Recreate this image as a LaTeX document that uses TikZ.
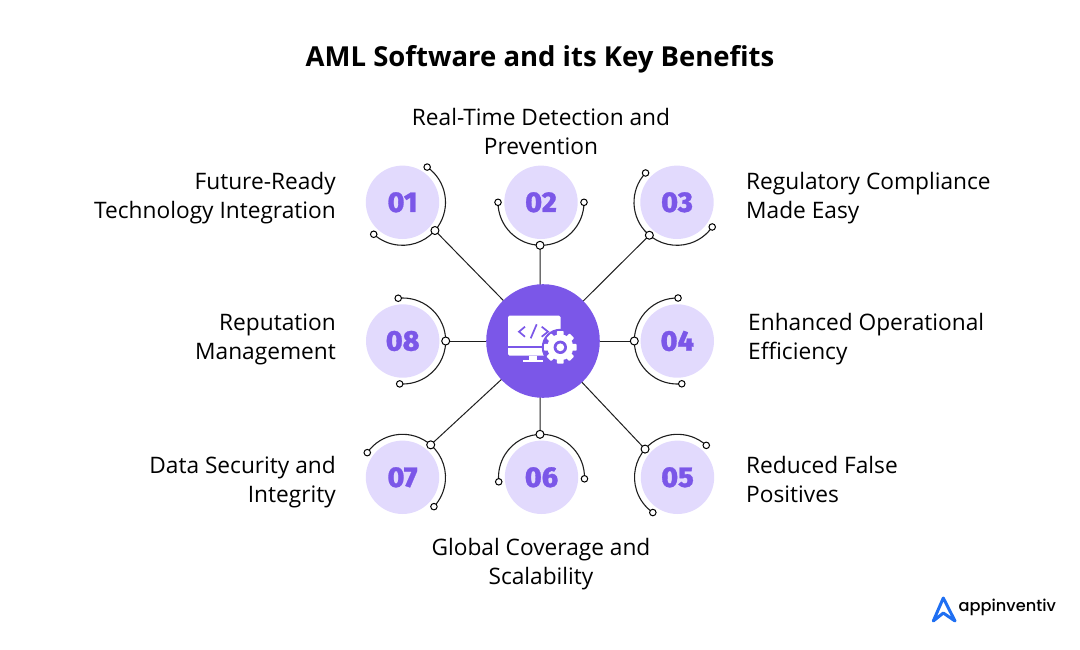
\documentclass[tikz,border=0pt]{standalone}
\usepackage{fontspec}
\setmainfont{Open Sans}
\newfontfamily\numfont{Fira Sans}[UprightFont=* ExtraBold,FakeBold=1]
\newfontfamily\logofont{Poppins}[UprightFont=* Medium]
\usetikzlibrary{calc}
\definecolor{violet}{HTML}{7B57E8}
\definecolor{lilac}{HTML}{E2DAFD}
\definecolor{logoblue}{HTML}{1F6FF2}
\definecolor{inkline}{HTML}{1E1E1E}
\tikzset{
  numdisc/.style={circle,fill=lilac,minimum size=73.4pt,inner sep=0pt,text=violet,font=\numfont\fontsize{28.5}{28.5}\selectfont},
  enddot/.style={circle,draw=black,fill=white,line width=1pt,minimum size=6.5pt,inner sep=0pt},
  joint/.style={circle,draw=black,fill=white,line width=1pt,minimum size=8pt,inner sep=0pt},
  ringarc/.style={draw=inkline,line width=1.1pt},
  spoke/.style={draw=inkline,line width=1pt},
  label/.style={font=\fontsize{22.7}{29}\selectfont,inner sep=0pt,text=black},
}
\newcommand{\benefit}[8]{% name,x,y,start,end,joint angle,number,spoke target
  \node[numdisc] (#1) at (#2,#3) {#7};
  \draw[ringarc] ($(#1.center)+(#4:43pt)$) arc[start angle=#4,end angle=#5,radius=43pt];
  \node[enddot] (#1a) at ($(#1.center)+(#4:43pt)$) {};
  \node[enddot] (#1b) at ($(#1.center)+(#5:43pt)$) {};
  \draw[spoke] (#8) -- ($(#1.center)+(#6:43pt)$) node[joint] (#1j) {};
}
\begin{document}
\begin{tikzpicture}[x=1pt,y=-1pt]
\useasboundingbox (0,0) rectangle (1080,649);
\node[font=\bfseries\fontsize{27.5}{30}\selectfont,inner sep=0pt] (title) at (540,59) {AML Software and its Key Benefits};
\coordinate (hub) at (543,341);
\coordinate (hubv) at (540,341);
\benefit{n1}{402.5}{202.3}{55}{-132}{-41}{01}{hub}
\benefit{n2}{541}{202.3}{180}{360}{268.7}{02}{hubv}
\benefit{n3}{677}{202.3}{137}{325}{230}{03}{hub}
\benefit{n4}{677.3}{341}{89}{276}{180}{04}{hub}
\benefit{n5}{677.5}{477.3}{48}{235}{139}{05}{hub}
\benefit{n6}{541.5}{477.3}{-2}{186}{92}{06}{hubv}
\benefit{n7}{402.5}{477.3}{145}{-43}{49}{07}{hub}
\benefit{n8}{402.7}{341}{96}{-94}{0}{08}{hub}
\node[circle,fill=violet,minimum size=113.6pt,inner sep=0pt] (hubdisc) at (hub) {};
% icon
\fill[white,rounded corners=1.5pt] (508,315.7) rectangle (560.7,355.7);
\fill[violet] (508,345.7) rectangle (560.7,347.7);
\fill[white] (529,355.7) rectangle (537,360);
\fill[white] (522.7,360) rectangle (542.7,362.3);
\draw[violet,line width=1.7pt] (525,326.7) -- (519,331.7) -- (525,336.7);
\draw[violet,line width=1.7pt] (541.7,326.7) -- (548,331.7) -- (541.7,336.7);
\draw[violet,line width=1.7pt] (536.7,324.3) -- (530.7,338.3);
\coordinate (gear) at (560.3,347.3);
\fill[violet] (gear) circle[radius=18.5];
\foreach \a in {0,45,...,315}{
  \fill[white,rotate around={\a:(gear)},rounded corners=0.8pt] ($(gear)+(-3.4,-16.3)$) rectangle ($(gear)+(3.4,-10)$);
}
\fill[white] (gear) circle[radius=13];
\fill[violet] (gear) circle[radius=6.7];
\fill[white] (gear) circle[radius=3.9];
% labels
\node[label,align=center] (t2) at (541,131) {Real-Time Detection and\\Prevention};
\node[label,align=right,anchor=east] (t1) at (336,198) {Future-Ready\\Technology Integration};
\node[label,align=left,anchor=west] (t3) at (746,198) {Regulatory Compliance\\Made Easy};
\node[label,align=left,anchor=west] (t4) at (748,339) {Enhanced Operational\\Efficiency};
\node[label,align=left,anchor=west] (t5) at (746,479.5) {Reduced False\\Positives};
\node[label,align=center] (t6) at (541,564) {Global Coverage and\\Scalability};
\node[label,align=right,anchor=east] (t7) at (336,482) {Data Security and\\Integrity};
\node[label,align=right,anchor=east] (t8) at (336,339) {Reputation\\Management};
% logo
\draw[logoblue,line width=3pt,line join=round,line cap=round] (933.3,621) -- (943.3,598) -- (955,621) -- (943.3,613) -- cycle;
\node[font=\logofont\fontsize{16.2}{20}\selectfont,anchor=west,inner sep=0pt] (logo) at (958.5,607) {appinventiv};
\end{tikzpicture}
\end{document}
